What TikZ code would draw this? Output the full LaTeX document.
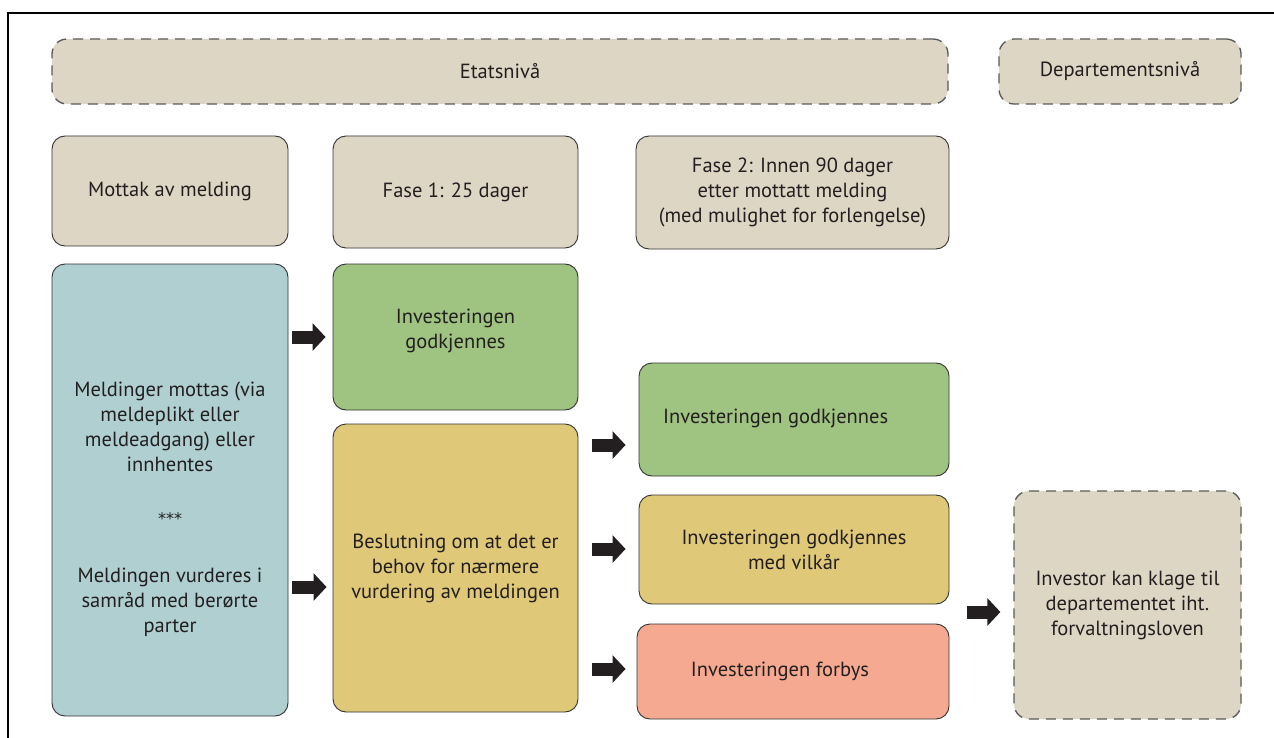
\documentclass[tikz,border=0pt]{standalone}
\usepackage{fontspec}
\setmainfont{PT Sans}
\newfontfamily\astfont{DejaVu Sans}
\usetikzlibrary{arrows.meta}
\definecolor{beige}{RGB}{221,214,196}
\definecolor{bluebox}{RGB}{175,207,208}
\definecolor{greenbox}{RGB}{159,195,128}
\definecolor{yellowbox}{RGB}{223,200,120}
\definecolor{redbox}{RGB}{244,169,144}
\definecolor{txt}{RGB}{35,31,32}
\begin{document}
\begin{tikzpicture}[x=1pt,y=-1pt,
  font=\fontsize{20.5}{25}\selectfont, text=txt,
  box/.style={draw=black!80, line width=0.9pt, rounded corners=13pt, inner sep=0pt, align=center},
  dbox/.style={draw=black!65, line width=1.3pt, dash pattern=on 10pt off 7pt, rounded corners=15pt, fill=beige, inner sep=0pt, align=center},
  lbl/.style={align=center, inner sep=0pt},
  fat/.style={line width=13pt, draw=txt, -{Triangle[length=13pt,width=27pt]}}]
\useasboundingbox (0,0) rectangle (1274,738);
\draw[line width=1.2pt] (8,738) -- (8,13) -- (1274,13);

% level headers
\node[dbox, minimum width=896pt, minimum height=65pt] (etat) at (500,71.5) {Etatsnivå};
\node[dbox, minimum width=242pt, minimum height=65pt] (dep) at (1120,71.5) {Departementsnivå};

% phase headers
\node[box, fill=beige, minimum width=236pt, minimum height=110pt] (mottak) at (170,191) {Mottak av melding};
\node[box, fill=beige, minimum width=245pt, minimum height=112pt] (fase1) at (455.5,192) {Fase 1: 25 dager};
\node[box, fill=beige, minimum width=313pt, minimum height=113pt] (fase2) at (792.5,192.5) {Fase 2: Innen 90 dager\\ etter mottatt melding\\ (med mulighet for forlengelse)};

% column 1
\node[box, fill=bluebox, minimum width=236pt, minimum height=452pt] (blue) at (170,490) {};
\node[lbl] (bluetext) at (170,509) {Meldinger mottas (via\\ meldeplikt eller\\ meldeadgang) eller\\ innhentes\\[28pt] {\astfont\fontsize{16}{25}\selectfont ***}\\[33pt] Meldingen vurderes i\\ samråd med berørte\\ parter};

% column 2
\node[box, fill=greenbox, minimum width=245pt, minimum height=146pt] (green1) at (455.5,337) {};
\node[lbl] (green1text) at (455.5,331) {Investeringen\\ godkjennes};
\node[box, fill=yellowbox, minimum width=245pt, minimum height=288pt] (yellow) at (455.5,568) {Beslutning om at det er\\ behov for nærmere\\ vurdering av meldingen};

% column 3
\node[box, fill=greenbox, minimum width=310pt, minimum height=113pt] (green2) at (794,419.5) {};
\node[lbl, anchor=west] (green2text) at (663,418) {Investeringen godkjennes};
\node[box, fill=yellowbox, minimum width=310pt, minimum height=109pt] (yellow2) at (794,549.5) {Investeringen godkjennes\\ med vilkår};
\node[box, fill=redbox, minimum width=312pt, minimum height=95pt] (red) at (793,671.5) {};
\node[lbl] (redtext) at (780,671) {Investeringen forbys};

% column 4
\node[dbox, minimum width=227pt, minimum height=228pt] (investor) at (1127.5,605) {Investor kan klage til\\ departementet iht.\\ forvaltningsloven};

% arrows
\coordinate (y2) at (0,587);
\coordinate (y3) at (0,445);
\coordinate (y4) at (0,549);
\coordinate (y5) at (0,669);
\coordinate (y6) at (0,612);
\draw[fat] ([xshift=4pt]blue.east |- green1.west) -- ([xshift=-7pt]green1.west);
\draw[fat] ([xshift=4pt]blue.east |- y2) -- ([xshift=-6pt]yellow.west |- y2);
\draw[fat] ([xshift=14pt]yellow.east |- y3) -- ([xshift=-13pt]green2.west |- y3);
\draw[fat] ([xshift=14pt]yellow.east |- y4) -- ([xshift=-13pt]yellow2.west |- y4);
\draw[fat] ([xshift=14pt]yellow.east |- y5) -- ([xshift=-11pt]red.west |- y5);
\draw[fat] ([xshift=18pt]yellow2.east |- y6) -- ([xshift=-13pt]investor.west |- y6);
\end{tikzpicture}
\end{document}
